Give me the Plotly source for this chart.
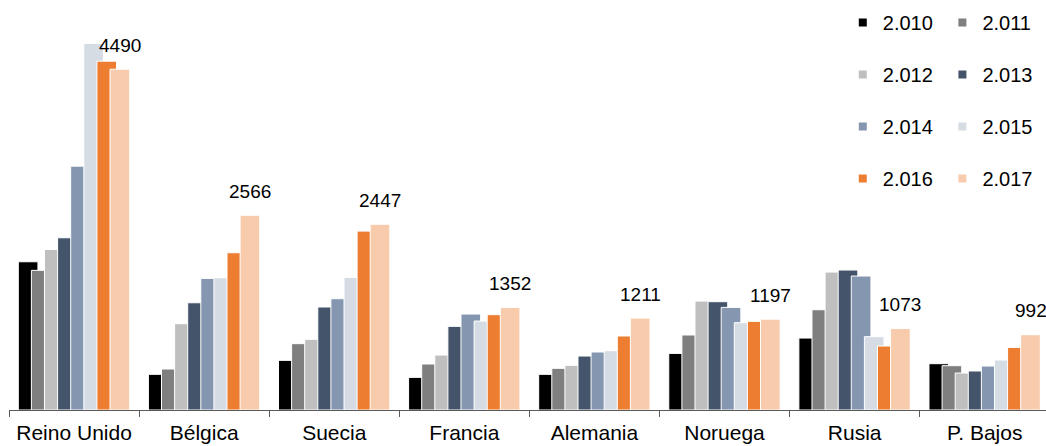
import plotly.graph_objects as go

# Categories and yearly series
countries = ["Reino Unido", "Bélgica", "Suecia", "Francia", "Alemania", "Noruega", "Rusia", "P. Bajos"]
years = ["2.010", "2.011", "2.012", "2.013", "2.014", "2.015", "2.016", "2.017"]

v2010 = [1953, 470, 654, 430, 470, 746, 948, 610]
v2011 = [1840, 540, 874, 606, 549, 988, 1321, 584]
v2012 = [2116, 1137, 931, 724, 588, 1435, 1817, 487]
v2013 = [2269, 1413, 1357, 1102, 711, 1427, 1844, 514]
v2014 = [3213, 1734, 1466, 1264, 764, 1352, 1765, 579]
v2015 = [4829, 1743, 1747, 1172, 781, 1150, 966, 658]
v2016 = [4596, 2072, 2357, 1256, 975, 1168, 843, 825]
v2017 = [4490, 2566, 2447, 1352, 1211, 1197, 1073, 992]

series = [v2010, v2011, v2012, v2013, v2014, v2015, v2016, v2017]
colors = ["#000000", "#7f7f7f", "#bfbfbf", "#44546a", "#8496b0", "#d6dce4", "#ed7d31", "#f8cbad"]

FONT = "Liberation Sans, Arial, sans-serif"

# overlapping clustered bars (each bar partly covers the previous one)
BAR_W = 0.151
STEP = 0.1007
FIRST = -0.4285

fig = go.Figure()
for i, (name, vals, col) in enumerate(zip(years, series, colors)):
    fig.add_trace(go.Bar(
        x=countries, y=vals, name=name,
        offset=FIRST + i * STEP, width=BAR_W,
        marker=dict(color=col, line=dict(color="white", width=1)),
        showlegend=False,
    ))

# legend entries, split into two columns
for i, (name, col) in enumerate(zip(years, colors)):
    fig.add_trace(go.Scatter(
        x=[None], y=[None], mode="markers", name=name,
        marker=dict(symbol="square", size=8, color=col),
        legend="legend" if i % 2 == 0 else "legend2",
        legendgroup=name,
    ))

# value labels above the last year's bars
label_dx = FIRST + 7 * STEP + BAR_W / 2
for i, v in enumerate(v2017):
    fig.add_annotation(
        x=i + label_dx, y=v, text=str(v), showarrow=False,
        yanchor="middle", yshift=24,
        font=dict(family=FONT, size=19, color="#000000"),
    )

legend_common = dict(
    font=dict(family=FONT, size=20, color="#000000"),
    bgcolor="rgba(0,0,0,0)", tracegroupgap=23,
    xanchor="left", yanchor="top",
    y=1 - 3 / 410,
)

fig.update_layout(
    width=1046, height=446,
    margin=dict(l=9, r=0, t=0, b=36, autoexpand=False),
    paper_bgcolor="white", plot_bgcolor="white",
    barmode="overlay",
    font=dict(family=FONT, color="#000000"),
    xaxis=dict(
        type="category", range=[-0.5, 7.471],
        tickson="boundaries", ticks="outside", ticklen=6, tickcolor="#595959",
        showline=True, linecolor="#595959", linewidth=1, tickangle=0,
        ticklabelstandoff=4,
        showgrid=False, tickfont=dict(family=FONT, size=21, color="#000000"),
        fixedrange=True,
    ),
    yaxis=dict(visible=False, range=[0, 5402], fixedrange=True),
    legend=dict(x=(846 - 9) / 1041, **legend_common),
    legend2=dict(x=(946 - 9) / 1041, **legend_common),
)

fig.write_html("out.html")
